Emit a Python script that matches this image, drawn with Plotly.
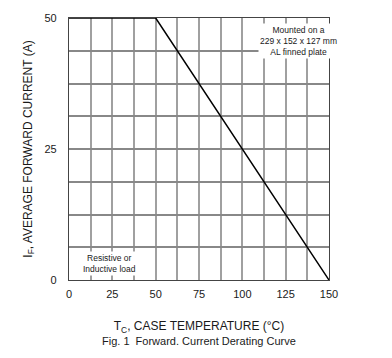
import plotly.graph_objects as go

# Data
case_temp_c = [0, 50, 150]
avg_forward_current_a = [50, 50, 0]

x_tick_vals = [0, 12.5, 25, 37.5, 50, 62.5, 75, 87.5, 100, 112.5, 125, 137.5, 150]
x_tick_text = ["0", "", "25", "", "50", "", "75", "", "100", "", "125", "", "150"]
y_tick_vals = [0, 6.25, 12.5, 18.75, 25, 31.25, 37.5, 43.75, 50]
y_tick_text = ["0", "", "", "", "25", "", "", "", "50"]
dark_grid_x = [137.5]

FONT = "Liberation Sans, Arial, sans-serif"
TXT = "#1a1a1a"

fig = go.Figure()
fig.add_trace(go.Scatter(
    x=case_temp_c, y=avg_forward_current_a, mode="lines",
    line=dict(color="black", width=1.5), hoverinfo="skip", showlegend=False,
))

for gx in dark_grid_x:
    fig.add_shape(type="line", xref="x", yref="y", x0=gx, x1=gx, y0=0, y1=50,
                  line=dict(color="black", width=1.2), layer="below")

fig.add_annotation(
    x=(112.5 + 150) / 2 + 1, y=45.6, xref="x", yref="y",
    text="Mounted on a<br>229 x 152 x 127 mm<br>AL finned plate",
    showarrow=False, bgcolor="white", font=dict(family=FONT, size=8.5, color=TXT),
    align="center",
)
fig.add_annotation(
    x=23.6, y=3.1, xref="x", yref="y",
    text="Resistive or<br>Inductive load",
    showarrow=False, bgcolor="white", font=dict(family=FONT, size=8.5, color=TXT),
    align="center",
)
fig.add_annotation(
    x=0.5, y=-0.232, xref="paper", yref="paper", yanchor="middle",
    text="Fig. 1  Forward. Current Derating Curve",
    showarrow=False, font=dict(family=FONT, size=11, color=TXT),
)

fig.update_xaxes(
    range=[0, 150], tickvals=x_tick_vals, ticktext=x_tick_text,
    showgrid=True, gridcolor="#a0a0a0", gridwidth=2,
    zeroline=False, showline=True, linecolor="#444", linewidth=1.2, mirror=True,
    ticks="", ticklabelstandoff=4,
    tickfont=dict(family=FONT, size=11, color=TXT),
    title=dict(text="T<sub>C</sub>, CASE TEMPERATURE (°C)", standoff=22,
               font=dict(family=FONT, size=12, color=TXT)),
)
fig.update_yaxes(
    range=[0, 50], tickvals=y_tick_vals, ticktext=y_tick_text,
    showgrid=True, gridcolor="#888888", gridwidth=1.5,
    zeroline=False, showline=True, linecolor="#444", linewidth=1.2, mirror=True,
    ticks="", ticklabelstandoff=9,
    tickfont=dict(family=FONT, size=11, color=TXT),
    title=dict(text="I<sub>F</sub>, AVERAGE FORWARD CURRENT (A)", standoff=9,
               font=dict(family=FONT, size=12, color=TXT)),
)
# page body has an 8px default margin; size the figure so the plot lands where the reference has it
fig.update_layout(
    width=384, height=350,
    margin=dict(l=61, r=63, t=10, b=78, autoexpand=False),
    plot_bgcolor="white", paper_bgcolor="white",
    showlegend=False,
)
fig.write_html("out.html")
